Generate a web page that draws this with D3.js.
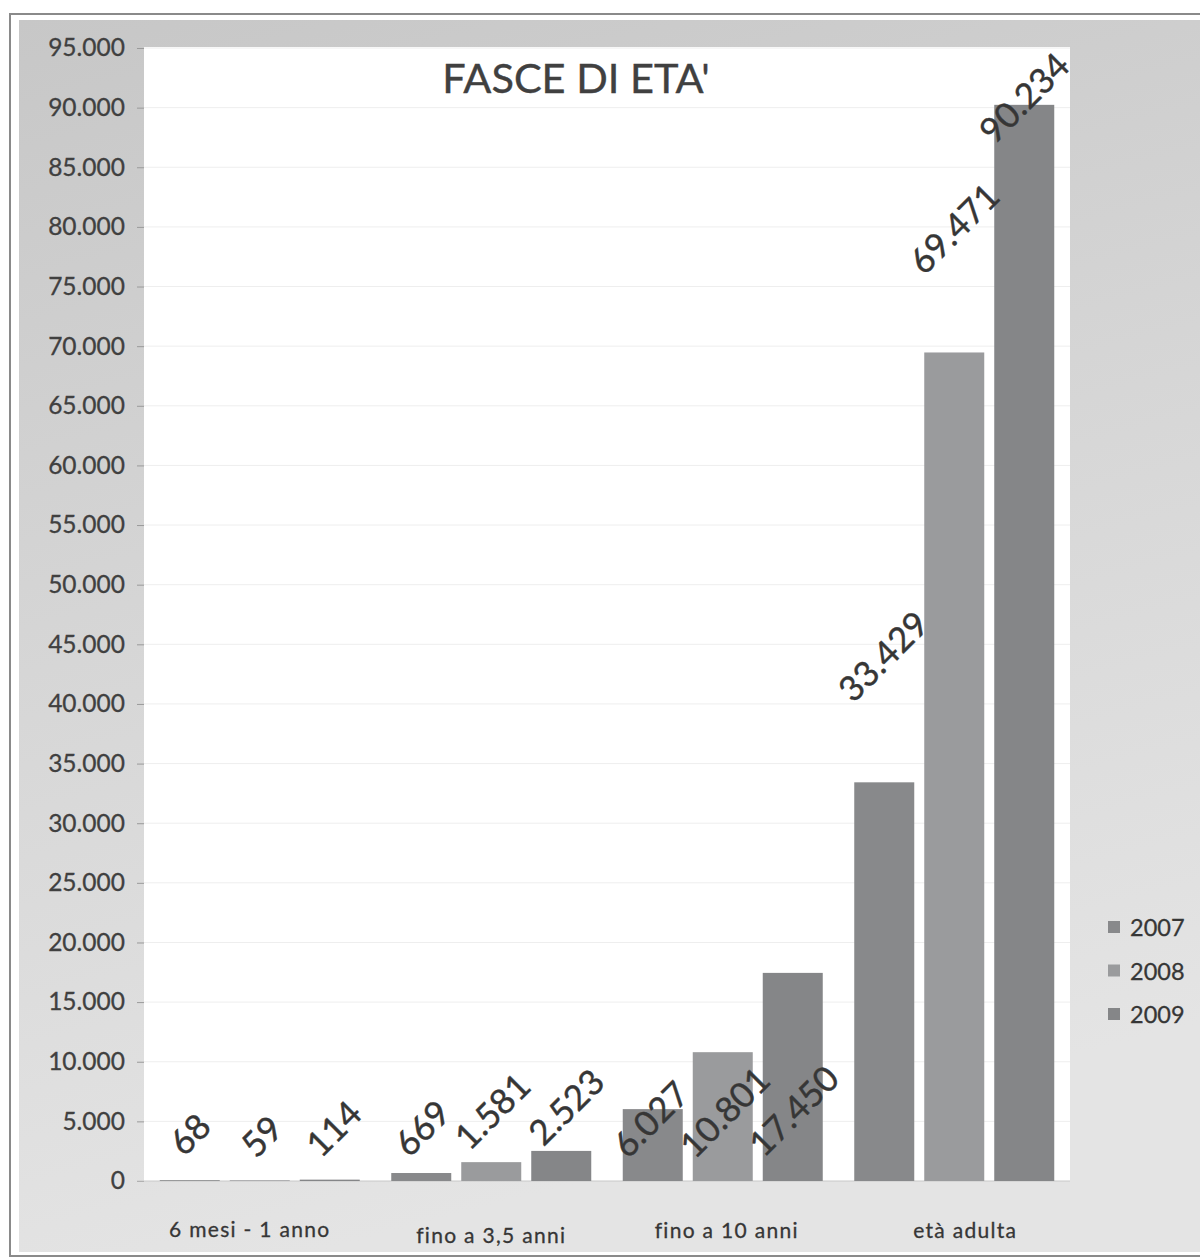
<!DOCTYPE html>
<html>
<head>
<meta charset="utf-8">
<script src="https://cdn.jsdelivr.net/npm/d3@7"></script>
<style>
  html, body { margin: 0; padding: 0; background: #fff; }
  svg { display: block; }
  text { font-family: Lato, "Open Sans", sans-serif; }
</style>
</head>
<body>
<svg id="chart" width="1200" height="1259"></svg>
<script>
// ---- data ----
const categories = ["6 mesi - 1 anno", "fino a 3,5 anni", "fino a 10 anni", "età adulta"];
const seriesNames = ["2007", "2008", "2009"];
const values2007 = [68, 669, 6027, 33429];
const values2008 = [59, 1581, 10801, 69471];
const values2009 = [114, 2523, 17450, 90234];
const yTicks = [0, 5000, 10000, 15000, 20000, 25000, 30000, 35000, 40000, 45000,
                50000, 55000, 60000, 65000, 70000, 75000, 80000, 85000, 90000, 95000];
const title = "FASCE DI ETA'";

// ---- layout (manually placed data labels: offsets of label centre from bar top, px) ----
const labelDy = [[-47, -45, -52], [-46, -52, -45], [9, 59, 137], [-127, -125, -8]];
const labelDx = [[-1, 1, 3], [0, 0, 4], [-3, 1, 0], [-2, -1, -1]];
const catDx = [-10, 0, 4, 11];
const catDy = [0, 6, 1, 1];
const colors = { "2007": "#88898b", "2008": "#9a9b9d", "2009": "#858688" };

const seriesValues = [values2007, values2008, values2009];
const svg = d3.select("#chart");

// background
const defs = svg.append("defs");
const grad = defs.append("linearGradient").attr("id", "bg")
  .attr("x1", "0").attr("y1", "0").attr("x2", "0.25").attr("y2", "1");
grad.append("stop").attr("offset", "0").attr("stop-color", "#c7c7c7");
grad.append("stop").attr("offset", "0.5").attr("stop-color", "#d6d6d6");
grad.append("stop").attr("offset", "1").attr("stop-color", "#e4e4e4");

svg.append("rect").attr("x", 10).attr("y", 14).attr("width", 1200).attr("height", 1242)
  .attr("fill", "#fff").attr("stroke", "#8a8a8a").attr("stroke-width", 2);
svg.append("rect").attr("x", 19).attr("y", 20).attr("width", 1190).attr("height", 1232)
  .attr("fill", "url(#bg)");

const plot = { left: 144, right: 1070, top: 47, bottom: 1181 };

const y = d3.scaleLinear().domain([0, 95000]).range([plot.bottom, 48]);
const x0 = d3.scaleBand().domain(categories).range([plot.left, plot.right]).padding(0);
const x1 = d3.scaleBand().domain(seriesNames)
  .range([15.75, x0.bandwidth() - 15.75]).paddingInner(0.1428).paddingOuter(0);

// plot area
svg.append("rect").attr("x", plot.left).attr("y", plot.top)
  .attr("width", plot.right - plot.left).attr("height", plot.bottom - plot.top)
  .attr("fill", "#ffffff");

// gridlines
svg.append("g").selectAll("line").data(yTicks.filter(d => d > 0)).join("line")
  .attr("x1", plot.left).attr("x2", plot.right)
  .attr("y1", d => y(d)).attr("y2", d => y(d))
  .attr("stroke", "#eeeeee").attr("stroke-width", 1);

// y axis
const yAxis = d3.axisLeft(y).tickValues(yTicks).tickSize(7).tickPadding(12)
  .tickFormat(d => d3.format(",")(d).replace(/,/g, "."));
const gy = svg.append("g").attr("transform", `translate(${plot.left},0)`).call(yAxis);
gy.select(".domain").remove();
gy.selectAll(".tick line").attr("stroke", "#9a9a9a");
gy.selectAll(".tick text").attr("fill", "#404040").attr("font-size", 24.5)
  .attr("stroke", "#404040").attr("stroke-width", 0.3)
  .attr("font-family", "Lato, 'Open Sans', sans-serif");

// baseline
svg.append("line").attr("x1", plot.left - 7).attr("x2", plot.right)
  .attr("y1", y(0)).attr("y2", y(0)).attr("stroke", "#c8c8c8");

// bars
const rows = categories.map((c, i) => ({
  cat: c, i,
  items: seriesNames.map((s, j) => ({ s, j, v: seriesValues[j][i] }))
}));

const groups = svg.append("g").selectAll("g").data(rows).join("g")
  .attr("transform", d => `translate(${x0(d.cat)},0)`);

groups.selectAll("rect").data(d => d.items).join("rect")
  .attr("x", d => x1(d.s))
  .attr("width", x1.bandwidth())
  .attr("y", d => y(d.v))
  .attr("height", d => y(0) - y(d.v))
  .attr("fill", d => colors[d.s]);

// data labels
const fmt = v => d3.format(",")(v).replace(/,/g, ".");
groups.each(function (row) {
  d3.select(this).selectAll("text.lbl").data(row.items).join("text")
    .attr("class", "lbl")
    .attr("transform", d => {
      const cx = x1(d.s) + x1.bandwidth() / 2 + labelDx[row.i][d.j];
      const cy = y(d.v) + labelDy[row.i][d.j];
      return `translate(${cx},${cy}) rotate(-45)`;
    })
    .attr("text-anchor", "middle")
    .attr("dominant-baseline", "central")
    .attr("font-size", 35)
    .attr("fill", "#363636")
    .attr("stroke", "#363636").attr("stroke-width", 0.4)
    .text(d => fmt(d.v));
});

// category labels
svg.append("g").selectAll("text").data(categories).join("text")
  .attr("x", (d, i) => x0(d) + x0.bandwidth() / 2 + catDx[i])
  .attr("y", (d, i) => 1237 + catDy[i])
  .attr("text-anchor", "middle")
  .attr("font-size", 21)
  .attr("letter-spacing", 1.3)
  .attr("fill", "#363636")
  .attr("stroke", "#363636").attr("stroke-width", 0.3)
  .text(d => d);

// title
svg.append("text").attr("x", 576).attr("y", 93).attr("text-anchor", "middle")
  .attr("font-size", 41.5).attr("fill", "#404040")
  .attr("stroke", "#404040").attr("stroke-width", 0.4).text(title);

// legend
const legend = svg.append("g").selectAll("g").data(seriesNames).join("g")
  .attr("transform", (d, i) => `translate(1108,${927 + i * 43.5})`);
legend.append("rect").attr("x", 0).attr("y", -6).attr("width", 12).attr("height", 12)
  .attr("fill", d => colors[d]);
legend.append("text").attr("x", 22).attr("y", 0).attr("dominant-baseline", "central")
  .attr("font-size", 23.5).attr("fill", "#363636")
  .attr("stroke", "#363636").attr("stroke-width", 0.3).text(d => d);
</script>
</body>
</html>
